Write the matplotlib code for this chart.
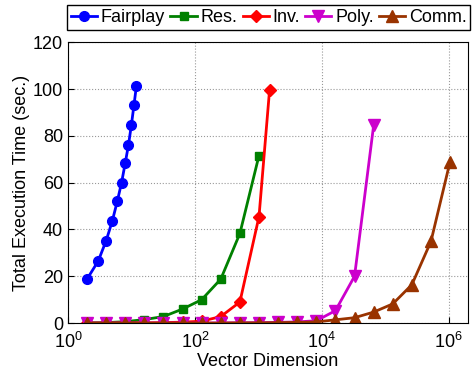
import matplotlib
matplotlib.use('Agg')
import matplotlib.pyplot as plt
from matplotlib.ticker import LogLocator, NullLocator

plt.rcParams['font.family'] = ['Liberation Sans', 'DejaVu Sans']

# data
fair_x = [2, 3, 4, 5, 6, 7, 8, 9, 10, 11, 12]
fair_y = [18.8, 26.5, 35.2, 43.6, 52.1, 60.0, 68.4, 76.2, 84.7, 93.3, 101.4]

res_x = [2, 4, 8, 16, 32, 64, 128, 256, 512, 1024]
res_y = [0.1, 0.2, 0.6, 1.5, 2.8, 6.0, 10.0, 18.8, 38.3, 71.6]

inv_x = [2, 4, 8, 16, 32, 64, 128, 256, 512, 1024, 1500]
inv_y = [0.0, 0.0, 0.1, 0.1, 0.2, 0.4, 0.8, 2.8, 9.0, 45.5, 99.4]

poly_x = [2, 4, 8, 16, 32, 64, 128, 256, 512, 1024, 2048, 4096, 8192, 16384,
          32768, 65536]
poly_y = [0.0, 0.0, 0.0, 0.0, 0.0, 0.0, 0.0, 0.1, 0.1, 0.2, 0.3, 0.5, 1.0,
          5.3, 20.0, 84.5]

comm_x = [2, 4, 8, 16, 32, 64, 128, 256, 512, 1024, 2048, 4096, 8192, 16384,
          32768, 65536, 131072, 262144, 524288, 1048576]
comm_y = [0.0, 0.0, 0.0, 0.0, 0.0, 0.0, 0.0, 0.0, 0.1, 0.1, 0.2, 0.3, 0.5,
          1.4, 2.3, 4.7, 8.2, 16.4, 34.9, 69.0]

fig = plt.figure(figsize=(4.75, 3.77), dpi=100)
ax = fig.add_axes([0.143, 0.143, 0.842, 0.745])

lw = 2
ax.plot(fair_x, fair_y, '-o', color='#0000ff', lw=lw, ms=7, label='Fairplay')
ax.plot(res_x, res_y, '-s', color='#008000', lw=lw, ms=6, label='Res.')
ax.plot(inv_x, inv_y, '-D', color='#ff0000', lw=lw, ms=6.5, label='Inv.')
ax.plot(poly_x, poly_y, '-v', color='#cc00cc', lw=lw, ms=8, label='Poly.')
ax.plot(comm_x, comm_y, '-^', color='#993300', lw=lw, ms=8, label='Comm.')

ax.set_xscale('log')
ax.set_xlim(1, 2e6)
ax.set_ylim(0, 120)
ax.set_yticks([0, 20, 40, 60, 80, 100, 120])
ax.xaxis.set_major_locator(LogLocator(base=100))
ax.xaxis.set_minor_locator(NullLocator())
ax.tick_params(direction='in', labelsize=13, length=4)
ax.tick_params(axis='x', pad=6)
ax.grid(True, linestyle=':', color='#999999', lw=0.8)
ax.set_xlabel('Vector Dimension', fontsize=13, labelpad=1)
ax.set_ylabel('Total Execution Time (sec.)', fontsize=13, labelpad=2)

fig.legend(loc='upper center', bbox_to_anchor=(0.566, 0.995), ncol=5,
           fontsize=13, handlelength=1.45, handletextpad=0.2, columnspacing=0.3,
           borderpad=0.2, borderaxespad=0.2, frameon=True, fancybox=False,
           edgecolor='black', framealpha=1)

fig.savefig('out.png', dpi=100)
